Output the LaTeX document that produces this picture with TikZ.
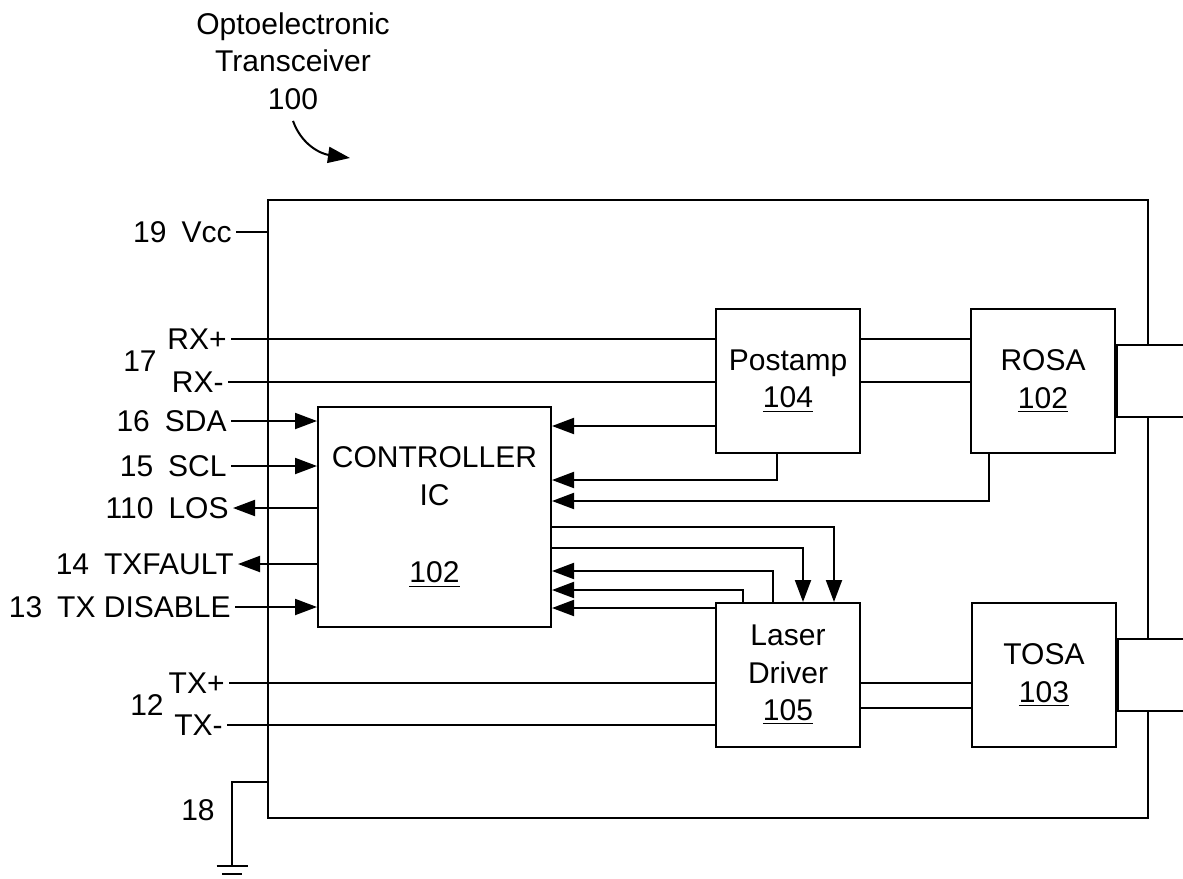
\documentclass[tikz,border=0pt]{standalone}
\usepackage{fontspec}
\setmainfont{Liberation Sans}
\usetikzlibrary{positioning}
\usetikzlibrary{arrows.meta}
\tikzset{
    every node/.append style={
        font=\fontsize{15}{18.75}\selectfont
    },
    block/.style={
        draw,
        line width=1pt,
        minimum width=72pt,
        minimum height=72pt,
        align=center,
        inner sep=0pt
    },
    port/.style={
        draw,
        line width=1pt,
        fill=white,
        minimum width=34pt,
        minimum height=36pt,
        anchor=west
    },
    pin/.style={
        anchor=east,
        inner sep=2pt
    },
    wire/.style={
        line width=1pt
    },
    sig/.style={
        wire,
        -{Triangle[length=11pt,width=8pt]}
    }
}

\begin{document}
\begin{tikzpicture}[x=0.5pt, y=-0.5pt]
            \useasboundingbox (0,0) rectangle (1183,878);

            \node[align=center, inner sep=0pt] (title) at (293,61) {Optoelectronic\\Transceiver\\100};
            \coordinate (ttip) at (350,158);
            \draw[sig] ([yshift=-5.5pt]title.south) .. controls (302,146) and (322,154) .. (ttip);

            % module outline and blocks
            \node[draw, line width=1pt, minimum width=440pt, minimum height=309pt] (xcvr) at (708,509) {};
            \node[block, minimum width=116.5pt, minimum height=110pt] (ctrl) at (434.5,517) {CONTROLLER\\IC\\[20pt]\underline{102}};
            \node[block] (postamp) at (788,381) {Postamp\\\underline{104}};
            \node[block, right=54.5pt of postamp] (rosa) {ROSA\\\underline{102}};
            \node[block, below=74pt of postamp] (laser) {Laser\\Driver\\\underline{105}};
            \node[block, right=55pt of laser] (tosa) {TOSA\\\underline{103}};
            \node[port] (rport) at (rosa.east) {};
            \node[port] (tport) at (tosa.east) {};

            % pins
            \node[pin] (vcc) at (236,232) {19\enspace Vcc};
            \node[pin] (rxp) at (231,339) {RX+};
            \node[pin] (rxn) at (228,382) {RX-};
            \node (rx) at (140,361) {17};
            \node[pin] (sda) at (231,421) {16\enspace SDA};
            \node[pin] (scl) at (231,466) {15\enspace SCL};
            \node[pin] (los) at (233,508) {110\enspace LOS};
            \node[pin] (txf) at (238,564) {14\enspace TXFAULT};
            \node[pin] (txd) at (235,607) {13\enspace TX DISABLE};
            \node[pin] (txp) at (229,683) {TX+};
            \node[pin] (txn) at (227,725) {TX-};
            \node (tx) at (147,705) {12};
            \node (gndlbl) at (198,810) {18};

            \draw[wire] (vcc) -- (vcc -| xcvr.west);
            \draw[wire] (rxp) -- (rxp -| postamp.west);
            \draw[wire] (rxn) -- (rxn -| postamp.west);
            \draw[wire] (postamp.east |- rxp) -- (rosa.west |- rxp);
            \draw[wire] (postamp.east |- rxn) -- (rosa.west |- rxn);
            \draw[sig] (sda) -- (sda -| ctrl.west);
            \draw[sig] (scl) -- (scl -| ctrl.west);
            \draw[sig] (ctrl.west |- los) -- (los);
            \draw[sig] (ctrl.west |- txf) -- (txf);
            \draw[sig] (txd) -- (txd -| ctrl.west);
            \draw[wire] (txp) -- (txp -| laser.west);
            \draw[wire] (txn) -- (txn -| laser.west);
            \coordinate (t2) at (900,708);
            \draw[wire] (laser.east |- txp) -- (tosa.west |- txp);
            \draw[wire] (laser.east |- t2) -- (tosa.west |- t2);

            % ground
            \coordinate (gndtop) at (232,782);
            \coordinate (gnd) at (232,866);
            \draw[wire] (xcvr.west |- gndtop) -- (gndtop) -- (gnd);
            \draw[wire] ([xshift=-7.75pt]gnd) -- ([xshift=7.75pt]gnd);
            \draw[wire] ([xshift=-5pt,yshift=-4pt]gnd) -- ([xshift=5pt,yshift=-4pt]gnd);

            % internal signals
            \coordinate (w1) at (716,426);
            \coordinate (w2) at (777,480);
            \coordinate (w3) at (989,501);
            \coordinate (w4) at (834,527);
            \coordinate (w5) at (803,548);
            \coordinate (w6) at (773,571);
            \coordinate (w7) at (743,590);
            \coordinate (w8) at (716,608);
            \draw[sig] (postamp.west |- w1) -- (ctrl.east |- w1);
            \draw[sig] (postamp.south -| w2) |- (ctrl.east |- w2);
            \draw[sig] (rosa.south -| w3) |- (ctrl.east |- w3);
            \draw[sig] (ctrl.east |- w4) -| (laser.north -| w4);
            \draw[sig] (ctrl.east |- w5) -| (laser.north -| w5);
            \draw[sig] (laser.north -| w6) |- (ctrl.east |- w6);
            \draw[sig] (laser.north -| w7) |- (ctrl.east |- w7);
            \draw[sig] (laser.west |- w8) -- (ctrl.east |- w8);
        \end{tikzpicture}
\end{document}
